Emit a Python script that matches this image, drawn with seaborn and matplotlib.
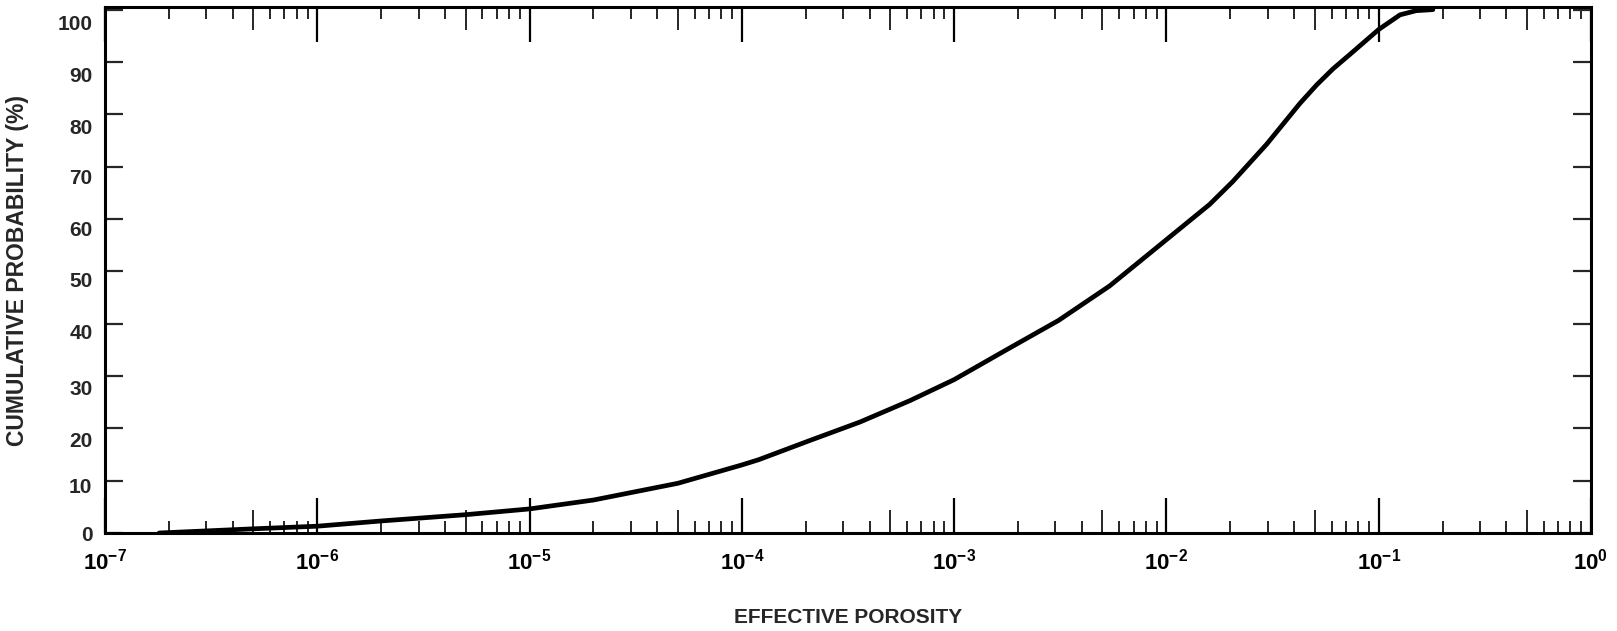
"""
Probabilidad acumulada de la porosidad efectiva (escala logarítmica)
"""

import numpy as np
import pandas as pd
import matplotlib
matplotlib.use('Agg')
import matplotlib.pyplot as plt
import matplotlib.ticker as mticker
from matplotlib.transforms import ScaledTranslation
import seaborn as sns

# ─────────────────────────────────────────────
# Datos
# ─────────────────────────────────────────────
porosidad = [1.8e-7, 3e-7, 5e-7, 1e-6, 2e-6, 5e-6, 1e-5, 2e-5, 5e-5, 1e-4,
             1.2e-4, 2.1e-4, 3.6e-4, 6.2e-4, 1e-3, 1.8e-3, 3.1e-3, 5.4e-3,
             9.3e-3, 1.6e-2, 2.06e-2, 2.97e-2, 3.54e-2, 4.26e-2, 5.1e-2,
             6.1e-2, 7.3e-2, 1e-1, 1.26e-1, 1.5e-1, 1.8e-1]
prob_acum = [0.0, 0.4, 0.8, 1.3, 2.3, 3.5, 4.6, 6.3, 9.5, 13.0,
             14.0, 17.7, 21.2, 25.3, 29.3, 35.2, 40.6, 47.2,
             55.0, 62.8, 67.2, 74.3, 78.1, 82.1, 85.6,
             88.7, 91.4, 96.2, 99.0, 99.8, 100.0]

decadas = [1e-7, 1e-6, 1e-5, 1e-4, 1e-3, 1e-2, 1e-1, 1e0]
etiquetas_x = [r'$10^{-7}$', r'$10^{-6}$', r'$10^{-5}$', r'$10^{-4}$',
               r'$10^{-3}$', r'$10^{-2}$', r'$10^{-1}$', r'$10^{0}$']
ticks_y = list(range(0, 101, 10))

# desplazamiento vertical (pt) de cada etiqueta del eje y, como en el original
desplaz_y = [0, 3.5, 8, 8, 6, 6, 7, 7, 8.5, 9, 9]

# ─────────────────────────────────────────────
# Estilo
# ─────────────────────────────────────────────
sns.set_style('ticks')
plt.rcParams['font.family'] = ['Liberation Sans', 'DejaVu Sans']
plt.rcParams['font.weight'] = 'bold'
plt.rcParams['mathtext.fontset'] = 'custom'
plt.rcParams['mathtext.rm'] = 'Liberation Sans:bold'
plt.rcParams['mathtext.it'] = 'Liberation Sans:bold'
plt.rcParams['mathtext.default'] = 'rm'

fig = plt.figure(figsize=(16.17, 6.31), dpi=100)
ax = fig.add_axes([0.0649, 0.1553, 0.9190, 0.8336])

df = pd.DataFrame({'porosidad': porosidad, 'prob': prob_acum})
sns.lineplot(data=df, x='porosidad', y='prob', color='black',
             linewidth=3.4, ax=ax)

ax.set_xscale('log')
ax.set_xlim(1e-7, 1)
ax.set_ylim(0, 100.5)

# Marcas del eje x: décadas + subdivisiones 2..9
minor_locs = [d * s for d in decadas[:-1] for s in range(2, 10)]
ax.xaxis.set_major_locator(mticker.FixedLocator(decadas))
ax.xaxis.set_major_formatter(mticker.FixedFormatter(etiquetas_x))
ax.xaxis.set_minor_locator(mticker.FixedLocator(minor_locs))
ax.xaxis.set_minor_formatter(mticker.NullFormatter())
ax.yaxis.set_major_locator(mticker.FixedLocator(ticks_y))

ax.tick_params(axis='x', which='major', direction='in', length=25, width=1.6,
               top=True, bottom=True, labelsize=16, pad=11, colors='black')
ax.tick_params(axis='x', which='minor', direction='in', length=8.5, width=1.4,
               top=True, bottom=True)
ax.tick_params(axis='y', direction='in', length=13, width=1.6,
               left=True, right=True, labelsize=15, pad=9)

# las marcas en 5x10^k son más largas
for tick, loc in zip(ax.xaxis.get_minor_ticks(len(minor_locs)), minor_locs):
    mant = loc / 10 ** np.floor(np.log10(loc) + 1e-9)
    if round(mant) == 5:
        tick.tick1line.set_markersize(16.5)
        tick.tick2line.set_markersize(16.5)

for s in ax.spines.values():
    s.set_linewidth(2.2)
    s.set_color('black')

for tick, dy in zip(ax.yaxis.get_major_ticks(), desplaz_y):
    lab = tick.label1
    lab.set_transform(lab.get_transform() +
                      ScaledTranslation(0, -dy / 72, fig.dpi_scale_trans))

ax.set_xlabel('EFFECTIVE POROSITY', fontsize=15, fontweight='bold')
ax.set_ylabel('CUMULATIVE PROBABILITY (%)', fontsize=16.5, fontweight='bold')
ax.xaxis.set_label_coords(0.5, -0.142)
ax.yaxis.set_label_coords(-0.051, 0.5)

fig.savefig('out.png', dpi=100, facecolor='white')
